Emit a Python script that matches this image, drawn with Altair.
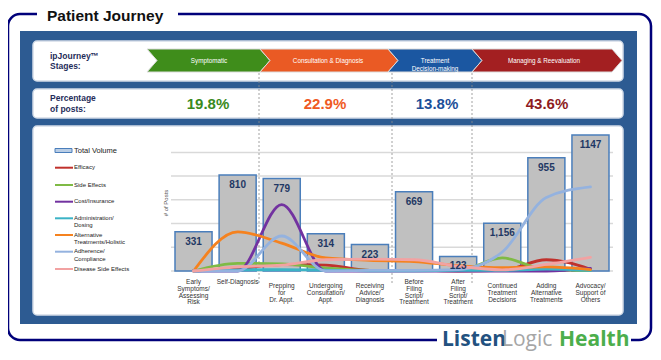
import altair as alt
import pandas as pd

# ---------------- data ----------------
stages = ["Symptomatic", "Consultation & Diagnosis", "Treatment\nDecision-making", "Managing & Reevaluation"]
stage_colors = ["#3f8d1b", "#ea5a24", "#1b57a1", "#a31f21"]
pct_labels = ["19.8%", "22.9%", "13.8%", "43.6%"]
pct_colors = ["#3a8a1c", "#ef5a24", "#1d4f99", "#8e1b1e"]

categories = ["Early Symptoms", "Self-Diagnosis", "Prepping", "Undergoing", "Receiving",
              "Before Filing", "After Filing", "Continued", "Adding", "Advocacy"]
category_labels = ["Early\nSymptoms/\nAssessing\nRisk", "Self-Diagnosis", "Prepping\nfor\nDr. Appt.",
                   "Undergoing\nConsultation/\nAppt.", "Receiving\nAdvice/\nDiagnosis",
                   "Before\nFiling\nScript/\nTreatment", "After\nFiling\nScript/\nTreatment",
                   "Continued\nTreatment\nDecisions", "Adding\nAlternative\nTreatments",
                   "Advocacy/\nSupport of\nOthers"]
total_volume = [331, 810, 779, 314, 223, 669, 123, 402, 955, 1147]
bar_labels = ["331", "810", "779", "314", "223", "669", "123", "1,156", "955", "1147"]

series = ["Efficacy", "Side Effects", "Cost/Insurance", "Administration/\nDosing",
          "Alternative\nTreatments/Holistic", "Adherence/\nCompliance", "Disease Side Effects"]
series_colors = ["#c0312c", "#7fba45", "#7232a0", "#3bb3c6", "#f5821f", "#94b2df", "#f2a2a2"]
efficacy = [0, 20, 55, 50, 5, 5, 0, 5, 95, 15]
side_effects = [0, 65, 60, 25, 5, 5, 5, 110, 10, 5]
cost_insurance = [0, 0, 560, 0, 0, 0, 0, 0, 0, 22]
administration = [0, 10, 12, 8, 2, 2, 5, 5, 15, 5]
alternative = [0, 330, 235, 110, 90, 80, 45, 28, 35, 12]
adherence = [0, 0, 295, 0, 5, 5, 12, 160, 620, 710]
disease_side = [0, 35, 50, 95, 100, 95, 40, 10, 55, 115]
series_values = [efficacy, side_effects, cost_insurance, administration, alternative, adherence, disease_side]

grid_values = [0, 200, 400, 600, 800, 1000]

# ---------------- tables ----------------
bars_df = pd.DataFrame({"cat": categories, "vol": total_volume, "lab": bar_labels})
labels_df = pd.DataFrame({"cat": categories, "txt": category_labels,
                          "n": [c.count("\n") + 1 for c in category_labels]})
rows = []
for s, vals in zip(series, series_values):
    for c, v in zip(categories, vals):
        rows.append({"cat": c, "series": s, "val": v})
lines_df = pd.DataFrame(rows)
grid_df = pd.DataFrame({"g": grid_values})
one = pd.DataFrame({"k": [0]})

# ---------------- layout helpers (page pixel coords) ----------------
def px(v):
    return v - 8

NARROW = "Liberation Sans Narrow, Arial Narrow, Liberation Sans, Arial"
SANS = "Liberation Sans, Arial"

def rect(x1, y1, x2, y2, **kw):
    return alt.Chart(one).mark_rect(**kw).encode(
        x=alt.value(px(x1)), x2=alt.value(px(x2)), y=alt.value(px(y1)), y2=alt.value(px(y2)))

def text(t, x, y, **kw):
    kw.setdefault("lineBreak", "\n")
    return alt.Chart(one).mark_text(**kw).encode(
        x=alt.value(px(x)), y=alt.value(px(y)), text=alt.value(t))

xscale = alt.Scale(domain=categories, range=[px(175), px(609)], paddingInner=0.16, paddingOuter=0)
yscale = alt.Scale(domain=[0, 1200], range=[px(271), px(271 - 1200 * 0.1186)], nice=False, zero=True)

layers = []
# outer frame
layers.append(rect(8, 14, 651, 340, fillOpacity=0, stroke="#00007a", strokeWidth=2.5, cornerRadius=12))
layers.append(rect(37, 9, 178, 24, fill="white"))
layers.append(rect(437, 330, 631, 354, fill="white"))
layers.append(text("Patient Journey", 47, 15.5, font=SANS, fontSize=15.5, fontWeight="bold",
                   color="#111111", align="left", baseline="middle"))
# blue panel
layers.append(rect(20, 31, 637, 324, fill="#2d5b92"))
# white panels
for (y1, y2) in [(41, 81), (89, 118), (126, 315)]:
    layers.append(rect(33, y1, 623, y2, fill="white", stroke="#d3dce8", strokeWidth=1.5, cornerRadius=4))

# chevrons
chev_x = [147, 260, 388, 472, 612]
def chevron(w, h=11.5, d=10):
    return f"M0,{-h} L{w},{-h} L{w + d},0 L{w},{h} L0,{h} L{d},0 Z"
stage_text_x = [209, 328, 435, 544]
for i, (st, col) in enumerate(zip(stages, stage_colors)):
    w = chev_x[i + 1] - chev_x[i]
    layers.append(alt.Chart(one).mark_point(shape=chevron(w), size=4, filled=True, fill=col,
                                            stroke="#dcdcdc", strokeWidth=1, opacity=1).encode(
        x=alt.value(px(chev_x[i])), y=alt.value(px(60.5))))
    layers.append(text(st, stage_text_x[i], 60.5, font=NARROW, fontSize=6.3, color="white",
                       align="center", baseline="middle", lineHeight=8))

layers.append(text("ipJourney\u2122\nStages:", 50, 52, font=SANS, fontSize=8.5, fontWeight="bold",
                   color="#1f2d5a", align="left", baseline="top", lineHeight=10))
layers.append(text("Percentage\nof posts:", 50, 94, font=SANS, fontSize=8.5, fontWeight="bold",
                   color="#1f2d5a", align="left", baseline="top", lineHeight=10.5))
pct_x = [208, 325, 437, 547]
for t, c, x in zip(pct_labels, pct_colors, pct_x):
    layers.append(text(t, x, 103.5, font=NARROW, fontSize=15, fontWeight="bold", color=c,
                       align="center", baseline="middle"))

# gridlines
layers.append(alt.Chart(grid_df).mark_rule(color="#d9d9d9", strokeWidth=1.5).encode(
    y=alt.Y("g:Q", scale=yscale, axis=None), x=alt.value(px(171)), x2=alt.value(px(613))))
# dotted separators
for x in [259, 392, 472]:
    layers.append(alt.Chart(one).mark_rule(color="#8a8a8a", strokeWidth=0.8, strokeDash=[2, 2]).encode(
        x=alt.value(px(x)), y=alt.value(px(73)), y2=alt.value(px(285))))

# bars
layers.append(alt.Chart(bars_df).mark_bar(fill="#c0c0c0", stroke="#4a7ebb", strokeWidth=1.5).encode(
    x=alt.X("cat:N", scale=xscale, axis=None, sort=categories),
    y=alt.Y("vol:Q", scale=yscale, axis=None)))
# topic lines
layers.append(alt.Chart(lines_df).mark_line(interpolate="monotone", strokeWidth=2.8, strokeCap="round").encode(
    x=alt.X("cat:N", scale=xscale, axis=None, sort=categories),
    y=alt.Y("val:Q", scale=yscale, axis=None),
    color=alt.Color("series:N", scale=alt.Scale(domain=series, range=series_colors), legend=None)))
# bar value labels
layers.append(alt.Chart(bars_df).mark_text(dy=10, font=NARROW, fontSize=10, fontWeight="bold",
                                           color="#1f3864", baseline="middle").encode(
    x=alt.X("cat:N", scale=xscale, axis=None, sort=categories),
    y=alt.Y("vol:Q", scale=yscale, axis=None), text="lab:N"))
# category labels
for cond, ytop in [("datum.n == 3", 283), ("datum.n != 3", 279)]:
    layers.append(alt.Chart(labels_df).transform_filter(cond).mark_text(
        font=NARROW, fontSize=6.5, color="#333333", baseline="top", align="center",
        lineBreak="\n", lineHeight=6.8).encode(
        x=alt.X("cat:N", scale=xscale, axis=None, sort=categories),
        y=alt.value(px(ytop)), text="txt:N"))
layers.append(text("# of Posts", 166, 203, font=SANS, fontSize=6, color="#555555",
                   angle=270, align="center", baseline="middle"))

# legend
layers.append(rect(55, 148.5, 72, 152.5, fill="#b9cde5", stroke="#4a7ebb", strokeWidth=1))
layers.append(text("Total Volume", 74, 151, font=SANS, fontSize=7.5, color="#222222",
                   align="left", baseline="middle"))
legend_y = [167.7, 185, 201.7, 218.3, 235, 251.7, 269]
for s, c, ly in zip(series, series_colors, legend_y):
    layers.append(alt.Chart(one).mark_rule(color=c, strokeWidth=2).encode(
        x=alt.value(px(55)), x2=alt.value(px(73)), y=alt.value(px(ly))))
    layers.append(text(s, 74, ly - 3.3, font=NARROW, fontSize=6, color="#222222",
                       align="left", baseline="top", lineHeight=7.4))

# logo
LOGO = "Open Sans"
layers.append(text("Listen", 442, 346, font=LOGO, fontSize=21, fontWeight="bold", color="#22517f",
                   align="left", baseline="alphabetic"))
layers.append(text("Logic", 502, 346, font=LOGO, fontSize=21, color="#a6a6a6",
                   align="left", baseline="alphabetic"))
layers.append(text("Health", 559, 346, font=LOGO, fontSize=21, fontWeight="bold", color="#4cae4c",
                   align="left", baseline="alphabetic"))

chart = alt.layer(*layers).properties(
    width=645, height=344, padding=0, autosize="none", background="white"
).configure_view(stroke=None)

chart.save("out.html", embed_options={"renderer": "svg", "actions": False})
